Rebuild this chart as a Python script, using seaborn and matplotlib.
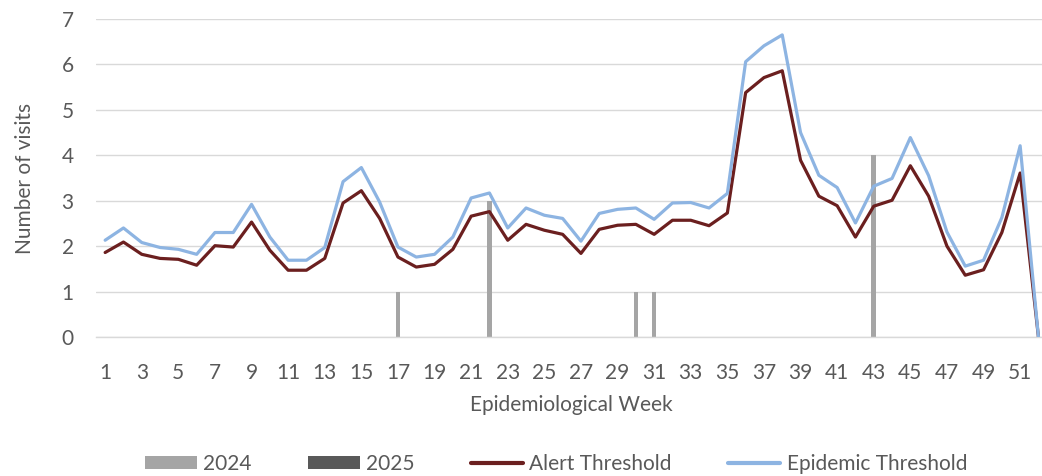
import matplotlib
matplotlib.use("Agg")
import matplotlib.pyplot as plt
from matplotlib.patches import Patch
from matplotlib.lines import Line2D
import numpy as np
import pandas as pd
import seaborn as sns

# Weekly surveillance data
weeks = list(range(1, 53))

visits_2024 = [0] * 52
for wk, n in [(17, 1), (22, 3), (30, 1), (31, 1), (43, 4)]:
    visits_2024[wk - 1] = n
visits_2025 = [0] * 52

alert_threshold = [1.86, 2.09, 1.82, 1.73, 1.71, 1.58, 2.01, 1.98, 2.53, 1.91,
                   1.47, 1.47, 1.73, 2.95, 3.22, 2.61, 1.76, 1.54, 1.60, 1.93,
                   2.66, 2.76, 2.13, 2.48, 2.35, 2.26, 1.84, 2.37, 2.46, 2.48,
                   2.26, 2.57, 2.57, 2.45, 2.73, 5.38, 5.71, 5.86, 3.89, 3.10,
                   2.89, 2.20, 2.88, 3.01, 3.77, 3.10, 2.00, 1.36, 1.48, 2.30,
                   3.61, 0.00]
epidemic_threshold = [2.13, 2.40, 2.08, 1.97, 1.93, 1.82, 2.30, 2.30, 2.92, 2.20,
                      1.69, 1.69, 1.97, 3.42, 3.73, 2.97, 1.98, 1.76, 1.82, 2.20,
                      3.06, 3.17, 2.40, 2.84, 2.68, 2.61, 2.11, 2.72, 2.81, 2.84,
                      2.59, 2.95, 2.96, 2.84, 3.16, 6.06, 6.41, 6.65, 4.50, 3.56,
                      3.29, 2.51, 3.32, 3.49, 4.39, 3.55, 2.31, 1.56, 1.69, 2.63,
                      4.21, 0.00]

year_labels = ["2024", "2025"]
tick_weeks = list(range(1, 53, 2))

bars = pd.DataFrame({
    "week": weeks * 2,
    "visits": visits_2024 + visits_2025,
    "year": [year_labels[0]] * 52 + [year_labels[1]] * 52,
})
lines = pd.DataFrame({
    "week": weeks * 2,
    "value": alert_threshold + epidemic_threshold,
    "series": ["Alert Threshold"] * 52 + ["Epidemic Threshold"] * 52,
})

sns.set_theme(style="white")
plt.rcParams["font.family"] = ["Lato", "DejaVu Sans"]

text_color = "#595959"
grid_color = "#D9D9D9"
fs = 15
bar_colors = {"2024": "#A5A5A5", "2025": "#595959"}
line_colors = {"Alert Threshold": "#6B1F1F", "Epidemic Threshold": "#8DB4E2"}

fig = plt.figure(figsize=(10.42, 4.76), dpi=100)
ax = fig.add_axes([96 / 1042, 139 / 476, 951.6 / 1042, 318 / 476])

sns.barplot(data=bars, x="week", y="visits", hue="year", palette=bar_colors,
            native_scale=True, dodge=False, width=0.25, legend=False,
            linewidth=0, ax=ax, zorder=2)
sns.lineplot(data=lines, x="week", y="value", hue="series", palette=line_colors,
             linewidth=2.3, legend=False, ax=ax, zorder=3)

ax.set_xlim(0.5, 52.5)
ax.set_ylim(0, 7)
ax.set_yticks(range(0, 8))
ax.set_xticks(tick_weeks)
ax.set_xticklabels([str(w) for w in tick_weeks])
ax.yaxis.grid(True, color=grid_color, linewidth=1.0, zorder=0)
ax.set_axisbelow(True)
for side in ["top", "right", "left"]:
    ax.spines[side].set_visible(False)
ax.spines["bottom"].set_color(grid_color)
ax.spines["bottom"].set_linewidth(1.0)
ax.tick_params(axis="both", length=0, labelsize=fs, colors=text_color)
ax.tick_params(axis="x", pad=19)
ax.tick_params(axis="y", pad=16)

ax.set_xlabel("Epidemiological Week", fontsize=fs, color=text_color)
ax.set_ylabel("Number of visits", fontsize=fs, color=text_color)
ax.xaxis.set_label_coords(0.5, -0.2138)
ax.xaxis.label.set_va("center")
ax.yaxis.set_label_coords(-0.0746, 0.5)
ax.yaxis.label.set_va("center")

handles = [
    Patch(facecolor=bar_colors["2024"], edgecolor="none", label="2024"),
    Patch(facecolor=bar_colors["2025"], edgecolor="none", label="2025"),
    Line2D([0], [0], color=line_colors["Alert Threshold"], lw=3, label="Alert Threshold"),
    Line2D([0], [0], color=line_colors["Epidemic Threshold"], lw=3, label="Epidemic Threshold"),
]
leg = fig.legend(handles=handles, loc="center", bbox_to_anchor=(556 / 1042, 1 - 464 / 476),
                 ncol=4, frameon=False, fontsize=fs, handlelength=2.5,
                 handleheight=0.6, handletextpad=0.3, columnspacing=2.7)
for t in leg.get_texts():
    t.set_color(text_color)

fig.savefig("out.png", dpi=100)
